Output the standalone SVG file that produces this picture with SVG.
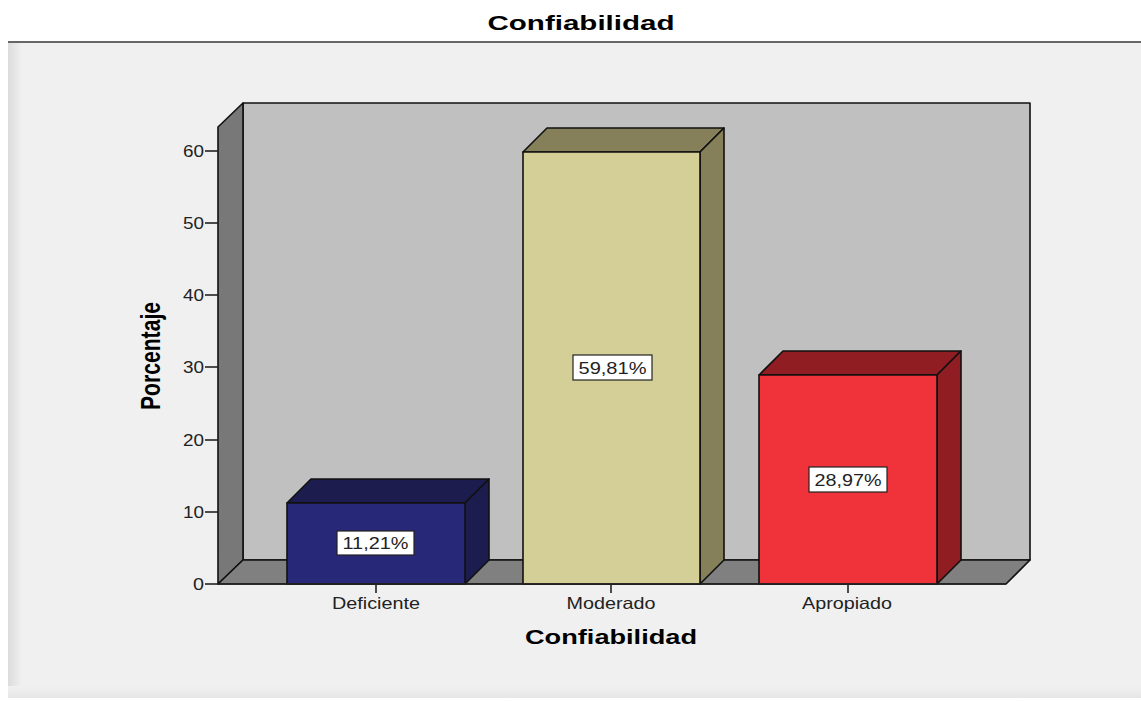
<svg xmlns="http://www.w3.org/2000/svg" width="1141" height="701" viewBox="0 0 1141 701">
<defs>
<linearGradient id="shL" x1="0" x2="1" y1="0" y2="0"><stop offset="0" stop-color="#dcdcdc"/><stop offset="1" stop-color="#f0f0f0"/></linearGradient>
<linearGradient id="shB" x1="0" x2="0" y1="0" y2="1"><stop offset="0" stop-color="#f0f0f0"/><stop offset="1" stop-color="#e6e6e6"/></linearGradient>
</defs>
<style>
.e{stroke:#111;stroke-width:1.6;stroke-linejoin:round}
.t{font-family:"Liberation Sans",Arial,sans-serif;font-size:16.5px;fill:#222}
.b{font-family:"Liberation Sans",Arial,sans-serif;font-size:20px;font-weight:bold;fill:#000}
.box{fill:#fff;stroke:#222;stroke-width:1.2}
.tk{stroke:#222;stroke-width:1.6}
</style>
<rect width="1141" height="701" fill="#fff"/>
<g id="panel">
<rect x="8" y="42" width="1133" height="656" fill="#f0f0f0"/>
<rect x="8" y="42" width="14" height="656" fill="url(#shL)"/>
<rect x="8" y="686" width="1133" height="12" fill="url(#shB)"/>
<line x1="8" y1="42" x2="1141" y2="42" stroke="#666" stroke-width="2"/>
</g>
<text id="title" class="b" x="581" y="30" text-anchor="middle" textLength="187" lengthAdjust="spacingAndGlyphs">Confiabilidad</text>
<g id="frame">
<polygon class="e" points="243,103 1030,103 1030,560 243,560" fill="#c0c0c0"/>
<polygon class="e" points="218,127 243,103 243,560 218,584" fill="#787878"/>
<polygon class="e" points="218,584 243,560 1030,560 1006,584" fill="#808080"/>
</g>
<g id="yaxis">
<g class="tk">
<line x1="205" y1="584" x2="218" y2="584"/>
<line x1="205" y1="512" x2="218" y2="512"/>
<line x1="205" y1="440" x2="218" y2="440"/>
<line x1="205" y1="367" x2="218" y2="367"/>
<line x1="205" y1="295" x2="218" y2="295"/>
<line x1="205" y1="223" x2="218" y2="223"/>
<line x1="205" y1="151" x2="218" y2="151"/>
</g>
<text class="t" x="204" y="590" text-anchor="end" textLength="11" lengthAdjust="spacingAndGlyphs">0</text>
<text class="t" x="204" y="518" text-anchor="end" textLength="21" lengthAdjust="spacingAndGlyphs">10</text>
<text class="t" x="204" y="446" text-anchor="end" textLength="21" lengthAdjust="spacingAndGlyphs">20</text>
<text class="t" x="204" y="373" text-anchor="end" textLength="21" lengthAdjust="spacingAndGlyphs">30</text>
<text class="t" x="204" y="301" text-anchor="end" textLength="21" lengthAdjust="spacingAndGlyphs">40</text>
<text class="t" x="204" y="229" text-anchor="end" textLength="21" lengthAdjust="spacingAndGlyphs">50</text>
<text class="t" x="204" y="157" text-anchor="end" textLength="21" lengthAdjust="spacingAndGlyphs">60</text>
<text class="b" transform="translate(160,356) rotate(-90) scale(1,1.35)" x="0" y="0" text-anchor="middle" textLength="108" lengthAdjust="spacingAndGlyphs">Porcentaje</text>
</g>
<g id="bar-deficiente">
<polygon class="e" points="287,503 311,479 489,479 465,503" fill="#1c1c4e"/>
<polygon class="e" points="465,503 489,479 489,560 465,584" fill="#1c1c4e"/>
<rect class="e" x="287" y="503" width="178" height="81" fill="#282878"/>
<rect class="box" x="337" y="531" width="77" height="24"/>
<text class="t" x="375.5" y="549" text-anchor="middle" textLength="66" lengthAdjust="spacingAndGlyphs">11,21%</text>
</g>
<g id="bar-moderado">
<polygon class="e" points="523,152 547,128 724,128 700,152" fill="#858059"/>
<polygon class="e" points="700,152 724,128 724,560 700,584" fill="#858059"/>
<rect class="e" x="523" y="152" width="177" height="432" fill="#d3cf96"/>
<rect class="box" x="573" y="355" width="79" height="25"/>
<text class="t" x="612.5" y="374" text-anchor="middle" textLength="68" lengthAdjust="spacingAndGlyphs">59,81%</text>
</g>
<g id="bar-apropiado">
<polygon class="e" points="759,375 783,351 961,351 937,375" fill="#8f1d22"/>
<polygon class="e" points="937,375 961,351 961,560 937,584" fill="#8f1d22"/>
<rect class="e" x="759" y="375" width="178" height="209" fill="#f0323a"/>
<rect class="box" x="809" y="467" width="78" height="25"/>
<text class="t" x="848" y="486" text-anchor="middle" textLength="67" lengthAdjust="spacingAndGlyphs">28,97%</text>
</g>
<g id="xaxis">
<line class="tk" x1="218" y1="584" x2="1006" y2="584"/>
<g class="tk">
<line x1="376" y1="584" x2="376" y2="593"/>
<line x1="611" y1="584" x2="611" y2="593"/>
<line x1="848" y1="584" x2="848" y2="593"/>
</g>
<text class="t" x="376" y="609" text-anchor="middle" textLength="88" lengthAdjust="spacingAndGlyphs">Deficiente</text>
<text class="t" x="611" y="609" text-anchor="middle" textLength="89" lengthAdjust="spacingAndGlyphs">Moderado</text>
<text class="t" x="847" y="609" text-anchor="middle" textLength="90" lengthAdjust="spacingAndGlyphs">Apropiado</text>
<text class="b" x="611" y="644" text-anchor="middle" textLength="172" lengthAdjust="spacingAndGlyphs">Confiabilidad</text>
</g>
</svg>
